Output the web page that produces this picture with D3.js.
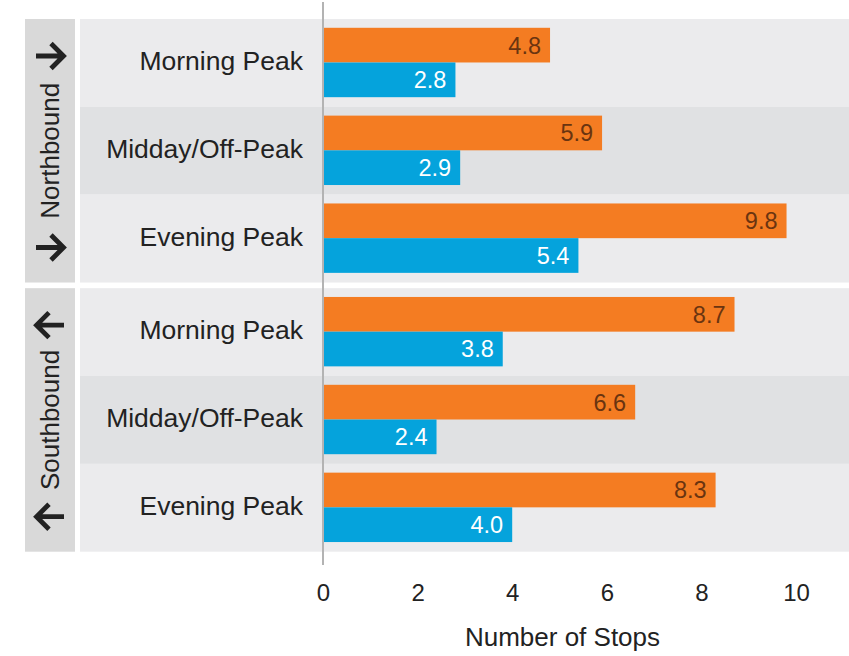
<!DOCTYPE html>
<html>
<head>
<meta charset="utf-8">
<script src="https://cdn.jsdelivr.net/npm/d3@7"></script>
<style>
  body { margin: 0; background: #fff; }
  svg text { font-family: "Liberation Sans", Arial, Helvetica, sans-serif; }
</style>
</head>
<body>
<div class="container"></div>
<script>
(function(){

var directions = ["Northbound", "Southbound"];
var periods = ["Morning Peak", "Midday/Off-Peak", "Evening Peak"];
var seriesKeys = ["orange", "blue"];
// values per direction, in period order
var orangeValues = [[4.8, 5.9, 9.8], [8.7, 6.6, 8.3]];
var blueValues = [[2.8, 2.9, 5.4], [3.8, 2.4, 4.0]];
var xTicks = [0, 2, 4, 6, 8, 10];
var xTitle = "Number of Stops";

var width = 849,
    height = 656;

var colors = { orange: "#f47c22", blue: "#05a3dc" };
var labelColors = { orange: "#6a3410", blue: "#ffffff" };

var svg = d3.select(".container")
  .append("svg")
  .attr("width", width)
  .attr("height", height);

var x = d3.scaleLinear()
  .domain([0, 10])
  .range([323, 796]);

// panels (one per direction)
var panelY = d3.scaleBand()
  .domain(directions)
  .range([19, 551.7])
  .paddingInner(0.021);

var panelH = panelY.bandwidth();

var rowY = d3.scaleBand()
  .domain(periods)
  .range([0, panelH]);

var barY = d3.scaleBand()
  .domain(seriesKeys)
  .range([rowY.bandwidth() * 0.1, rowY.bandwidth() * 0.89]);

directions.forEach(function(dir, di){

  var g = svg.append("g")
    .attr("class", "panel")
    .attr("transform", "translate(0," + panelY(dir) + ")");

  // strip
  g.append("rect")
    .attr("x", 25)
    .attr("y", 0)
    .attr("width", 50)
    .attr("height", panelH)
    .attr("fill", "#d9d9d9");

  g.append("text")
    .attr("transform", "translate(59," + (panelH / 2) + ") rotate(-90)")
    .attr("text-anchor", "middle")
    .attr("font-size", 26)
    .attr("fill", "#222")
    .text(dir);

  // arrows
  var dirSign = di == 0 ? 1 : -1;
  [37, panelH - 35].forEach(function(cy){
    var cx = 50;
    g.append("path")
      .attr("d", "M" + (cx - 14 * dirSign) + "," + cy + "H" + (cx + 12 * dirSign) +
        "M" + (cx + 1 * dirSign) + "," + (cy - 12.5) + "L" + (cx + 13.5 * dirSign) + "," + cy +
        "L" + (cx + 1 * dirSign) + "," + (cy + 12.5))
      .attr("fill", "none")
      .attr("stroke", "#222")
      .attr("stroke-width", 4.8);
  });

  // rows
  var rows = g.selectAll(".row")
    .data(periods)
    .enter()
    .append("g")
    .attr("class", "row")
    .attr("transform", function(d){ return "translate(0," + rowY(d) + ")"; });

  rows.append("rect")
    .attr("x", 80)
    .attr("width", width - 80)
    .attr("height", rowY.bandwidth())
    .attr("fill", function(d, i){ return i == 1 ? "#e0e1e3" : "#ebebed"; });

  rows.append("text")
    .attr("x", 303)
    .attr("y", rowY.bandwidth() / 2)
    .attr("dy", "0.27em")
    .attr("text-anchor", "end")
    .attr("font-size", 26.5)
    .attr("fill", "#222")
    .text(function(d){ return d; });

  rows.each(function(p, pi){
    var row = d3.select(this);
    var vals = { orange: orangeValues[di][pi], blue: blueValues[di][pi] };

    seriesKeys.forEach(function(k){
      row.append("rect")
        .attr("x", x(0))
        .attr("y", barY(k))
        .attr("width", x(vals[k]) - x(0))
        .attr("height", barY.bandwidth())
        .attr("fill", colors[k]);

      row.append("text")
        .attr("x", x(vals[k]) - 9)
        .attr("y", barY(k) + barY.bandwidth() / 2)
        .attr("dy", "0.36em")
        .attr("text-anchor", "end")
        .attr("font-size", 23.5)
        .attr("fill", labelColors[k])
        .text(d3.format(".1f")(vals[k]));
    });
  });
});

// zero line
svg.append("line")
  .attr("x1", x(0))
  .attr("x2", x(0))
  .attr("y1", 2)
  .attr("y2", 565)
  .attr("stroke", "#b3b3b3")
  .attr("stroke-width", 2);

// x axis
var xAxis = d3.axisBottom(x)
  .tickValues(xTicks)
  .tickSize(0)
  .tickPadding(0);

var axis = svg.append("g")
  .attr("class", "axis")
  .attr("transform", "translate(0,583.5)")
  .call(xAxis);

axis.select(".domain").remove();
axis.selectAll("text")
  .attr("font-size", 24)
  .attr("fill", "#222")
  .attr("font-family", "Liberation Sans, Arial, sans-serif");

svg.append("text")
  .attr("x", 562.5)
  .attr("y", 646)
  .attr("text-anchor", "middle")
  .attr("font-size", 26)
  .attr("fill", "#222")
  .text(xTitle);

})();
</script>
</body>
</html>
